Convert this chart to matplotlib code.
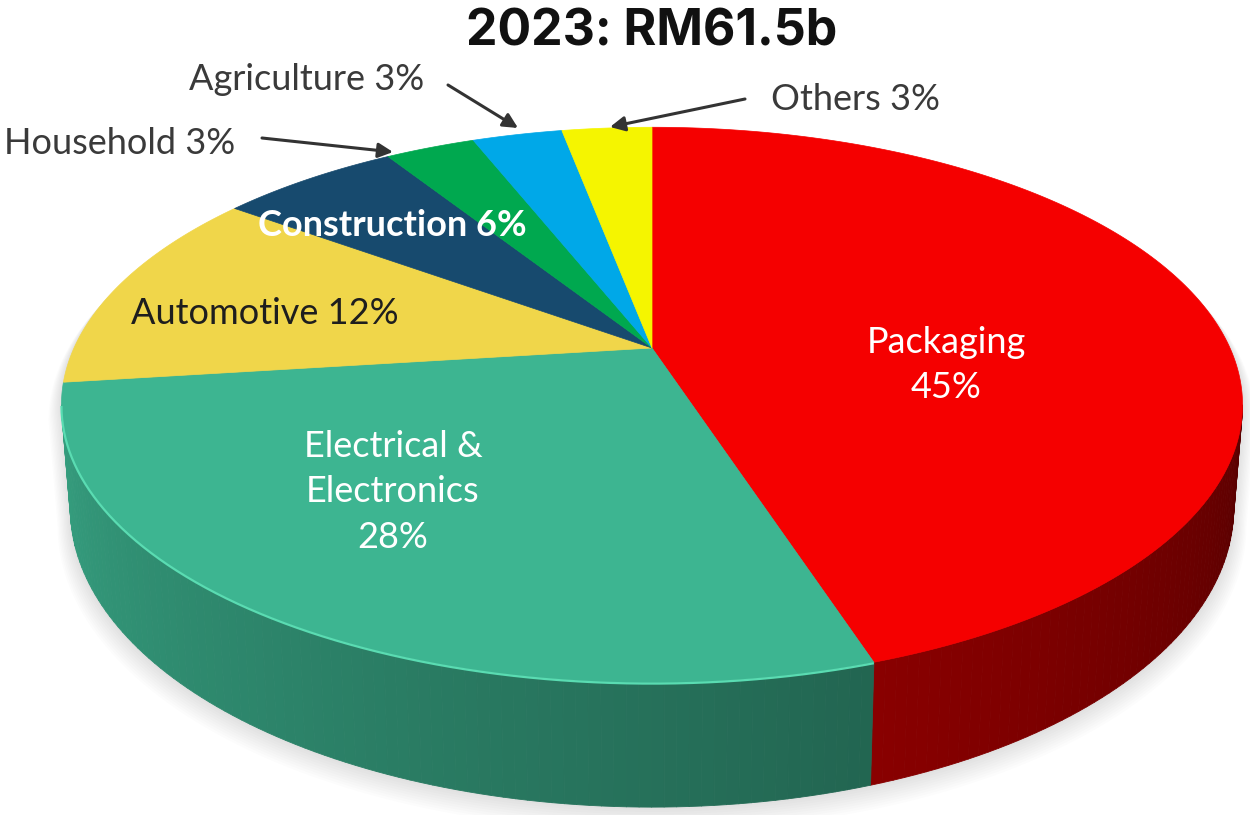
import numpy as np
import matplotlib.pyplot as plt
from matplotlib.collections import PolyCollection
from matplotlib.patches import Polygon
from matplotlib.colors import to_rgb

plt.rcParams['font.family'] = ['Lato', 'DejaVu Sans']

# ---- data -------------------------------------------------------------
title = "2023: RM61.5b"
sectors = ["Packaging", "Electrical & Electronics", "Automotive", "Construction",
           "Household", "Agriculture", "Others"]
shares = [45, 28, 12, 6, 3, 3, 3]
colors = ["#f50000", "#3db591", "#f0d64a", "#174a6e", "#00a84f", "#00a8e8", "#f5f500"]

# ---- projection of the tilted disc -----------------------------------
CX, CY = 652, 348          # centre of the top face on the canvas
A, B, K = 578, 266, 0.205  # horizontal / vertical radii and perspective strength
H = 99                     # wall height
SHRINK = 0.985             # bottom face slightly narrower (perspective)


def proj(t_deg, r=1.0, bottom=False):
    t = np.radians(t_deg)
    u, v = r * np.cos(t), r * np.sin(t)
    w = 1 + K * v
    x = A * u / w
    y = CY - B * v / w
    if bottom:
        return CX + x * SHRINK, y + H / w
    return CX + x, y


fig = plt.figure(figsize=(12.5, 8.15), dpi=100)
ax = fig.add_axes([0, 0, 1, 1])
ax.set_xlim(0, 1250)
ax.set_ylim(815, 0)
ax.axis('off')

# wedge angle ranges: clockwise from 12 o'clock
fracs = np.array(shares, dtype=float) / np.sum(shares)
ends = 90 - 360 * np.cumsum(fracs)
starts = np.concatenate([[90], ends[:-1]])

# visible wall: between the two silhouette tangents
t_sil = np.degrees(np.arcsin(K))
vis_lo, vis_hi = -180 + t_sil, -t_sil


def shade(t):
    return 0.88 + (t - vis_lo) / (vis_hi - vis_lo) * (0.36 - 0.88)


# soft drop shadow round the body
tt = np.linspace(vis_lo, vis_hi, 200)
sil = [proj(t) for t in np.linspace(vis_hi, vis_lo + 360, 200)] + \
      [proj(t, bottom=True) for t in tt]
sil = np.array(sil)
for i in range(10, 0, -1):
    s = 1 + 0.0022 * i
    pts = np.column_stack([CX + (sil[:, 0] - CX) * s,
                           CY + 40 + (sil[:, 1] - CY - 40) * s + 1.5 * i])
    ax.add_patch(Polygon(pts, closed=True, facecolor='#000000', alpha=0.012,
                         edgecolor='none', zorder=0))

# walls
for a0, a1, col in zip(starts, ends, colors):
    lo, hi = min(a0, a1), max(a0, a1)
    for shift in (-360, 0, 360):
        l, h = max(lo + shift, vis_lo), min(hi + shift, vis_hi)
        if h <= l:
            continue
        n = max(2, int((h - l) / 1.0))
        ts = np.linspace(l, h, n + 1)
        quads, fcs = [], []
        base = np.array(to_rgb(col))
        for ta, tb in zip(ts[:-1], ts[1:]):
            quads.append([proj(ta), proj(tb), proj(tb, bottom=True), proj(ta, bottom=True)])
            f = shade((ta + tb) / 2)
            fcs.append(np.clip(base * f, 0, 1))
        ax.add_collection(PolyCollection(quads, facecolors=fcs, edgecolors=fcs,
                                         linewidths=0.6, zorder=1))

# top faces
for a0, a1, col in zip(starts, ends, colors):
    arc = np.linspace(a0, a1, 200)
    pts = [(CX, CY)] + [proj(t) for t in arc]
    ax.add_patch(Polygon(pts, closed=True, facecolor=col, edgecolor=col,
                         linewidth=0.5, zorder=2))

# thin highlight along the front rim of the green sector
g0, g1 = ends[0], ends[1]
rim = np.array([proj(t) for t in np.linspace(max(g1, vis_lo), g0, 150)])
ax.plot(rim[:, 0], rim[:, 1] + 1, color='#5adcb2', lw=1.6, zorder=3, solid_capstyle='butt')

# ---- labels -------------------------------------------------------------
ax.text(652, 32, title, ha='center', va='center', fontsize=36, fontweight='bold',
        family=['Inter', 'DejaVu Sans'], color='#111111', zorder=5)

FS = 26
ax.text(946, 365, f"{sectors[0]}\n{shares[0]}%", ha='center', va='center',
        fontsize=FS, color='white', linespacing=1.45, zorder=5)
ax.text(393, 492, "Electrical &\nElectronics\n" + f"{shares[1]}%", ha='center',
        va='center', fontsize=FS, color='white', linespacing=1.45, zorder=5)
ax.text(265, 313, f"{sectors[2]} {shares[2]}%", ha='center', va='center',
        fontsize=FS, color='#1e1e1e', zorder=5)
ax.text(392, 225, f"{sectors[3]} {shares[3]}%", ha='center', va='center',
        fontsize=FS, color='white', fontweight='bold', zorder=5)

lab_col = '#3a3a3a'
ax.text(4, 143, f"{sectors[4]} {shares[4]}%", ha='left', va='center',
        fontsize=FS, color=lab_col, zorder=5)
ax.text(189, 80, f"{sectors[5]} {shares[5]}%", ha='left', va='center',
        fontsize=FS, color=lab_col, zorder=5)
ax.text(771, 100, f"{sectors[6]} {shares[6]}%", ha='left', va='center',
        fontsize=FS, color=lab_col, zorder=5)

arrow = dict(arrowstyle='-|>', color='#333333', lw=2.2, mutation_scale=22,
             shrinkA=0, shrinkB=0)
ax.annotate('', xy=(393, 152), xytext=(262, 138), arrowprops=arrow, zorder=5)
ax.annotate('', xy=(518, 128), xytext=(448, 85), arrowprops=arrow, zorder=5)
ax.annotate('', xy=(610, 127), xytext=(745, 99), arrowprops=arrow, zorder=5)

fig.savefig('out.png', dpi=100)
